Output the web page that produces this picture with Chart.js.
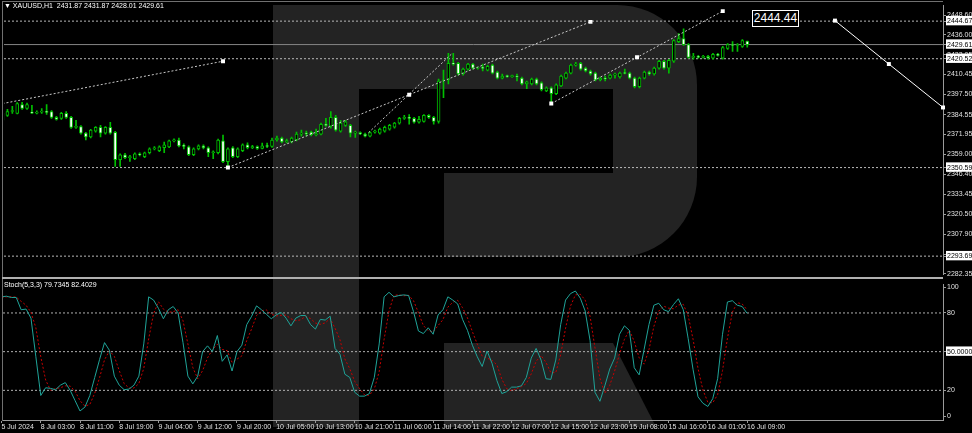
<!DOCTYPE html>
<html>
<head>
<meta charset="utf-8">
<script src="https://cdn.jsdelivr.net/npm/chart.js@4.4.1/dist/chart.umd.min.js"></script>
<style>
  html, body { margin: 0; padding: 0; background: #000; }
  #wrap { position: relative; width: 972px; height: 433px; overflow: hidden; background: #000;
          font-family: "Liberation Sans Narrow", "Liberation Sans", Arial, sans-serif; }
  .logo { position: absolute; background: #232323; }
  canvas { position: absolute; left: 0; }
  .txt { position: absolute; color: #fff; font-size: 7px; white-space: pre; line-height: 9px; }
  #frame { position: absolute; left: 2px; top: 1px; width: 941px; height: 420px; box-sizing: border-box;
           border-left: 1px solid #707070; border-top: 1px solid #707070; }
  #sep { position: absolute; left: 2px; top: 277px; width: 941px; height: 2px; background: #b0b0b0; }
  #fcLabel { position: absolute; left: 752px; top: 10px; width: 47px; height: 17px; box-sizing: border-box;
             border: 1px solid #fff; background: #000; color: #fff; font: 12px "Liberation Sans", Arial, sans-serif;
             line-height: 15px; text-align: center; }
</style>
</head>
<body>
<div id="wrap">
  <!-- watermark -->
  <div class="logo" style="left:273px;top:5px;width:86px;height:422px"></div>
  <div class="logo" style="left:359px;top:5px;width:338px;height:84px;border-top-right-radius:80px"></div>
  <div class="logo" style="left:613px;top:89px;width:84px;height:84px"></div>
  <div class="logo" style="left:444px;top:173px;width:253px;height:84px;border-bottom-right-radius:80px"></div>
  <div class="logo" style="left:444px;top:343px;width:212px;height:84px;clip-path:polygon(0 0,169px 0,212px 100%,0 100%)"></div>
  <div id="frame"></div>
  <canvas id="main" width="972" height="280" style="top:0"></canvas>
  <canvas id="stoch" width="972" height="154" style="top:279px"></canvas>
  <div id="sep"></div>
  <div class="txt" style="left:4px;top:1px">▼ XAUUSD,H1  2431.87 2431.87 2428.01 2429.61</div>
  <div class="txt" style="left:4px;top:280px">Stoch(5,3,3) 79.7345 82.4029</div>
  <div id="fcLabel">2444.44</div>
</div>
<script>
// --- données H1 XAUUSD ---
const opens = [
  2385.4,2384.1,2386.6,2385.4,2391.1,2388.6,2386.0,2385.6,2386.2,2386.6,
  2386.6,2382.8,2382.2,2385.4,2382.8,2376.4,2377.0,2372.7,2370.2,2374.0,
  2376.4,2372.7,2376.4,2373.3,2355.7,2358.8,2357.0,2356.3,2359.4,2357.6,
  2360.1,2362.6,2361.4,2363.3,2363.9,2367.7,2368.3,2364.5,2363.9,2358.8,
  2362.6,2364.5,2363.3,2360.1,2360.1,2367.7,2354.4,2363.3,2357.6,2361.4,
  2365.2,2363.3,2364.0,2362.9,2364.5,2364.1,2368.3,2369.6,2367.0,2367.0,
  2368.3,2372.1,2372.7,2373.4,2371.7,2372.1,2378.4,2377.2,2382.8,2374.0,
  2377.6,2377.8,2372.7,2373.0,2372.1,2370.8,2373.4,2372.7,2374.0,2375.3,
  2376.5,2379.1,2382.2,2382.8,2382.2,2379.7,2380.3,2384.1,2382.8,2380.3,
  2406.2,2406.9,2417.6,2417.6,2410.7,2413.8,2417.0,2414.5,2414.9,2413.2,
  2416.4,2411.9,2408.1,2409.4,2409.0,2409.4,2408.1,2404.4,2404.4,2407.5,
  2405.0,2399.9,2401.8,2398.0,2403.1,2408.1,2411.3,2416.4,2417.6,2414.5,
  2412.6,2411.3,2406.9,2408.1,2408.1,2410.0,2408.8,2411.3,2411.3,2408.1,
  2402.5,2408.1,2411.9,2410.7,2414.5,2418.9,2414.5,2418.9,2431.5,2433.4,
  2429.6,2421.4,2422.1,2421.4,2422.1,2420.8,2423.3,2420.8,2427.1,2429.6,
  2429.0,2428.4,2431.87
];
const highs = [
  2388.5,2388.0,2390.0,2392.3,2392.5,2392.0,2390.6,2387.0,2388.5,2391.1,
  2387.2,2383.5,2386.0,2386.6,2383.5,2380.9,2377.6,2373.3,2375.2,2377.0,
  2377.8,2377.0,2379.7,2373.9,2359.4,2359.8,2358.5,2360.0,2360.0,2360.6,
  2363.3,2364.0,2364.5,2367.0,2368.3,2369.0,2369.6,2365.8,2364.5,2363.3,
  2365.2,2365.2,2363.9,2361.4,2368.9,2371.5,2363.3,2364.0,2363.3,2365.8,
  2366.5,2364.8,2364.5,2366.4,2366.4,2369.6,2370.8,2370.2,2368.9,2370.2,
  2373.4,2374.6,2374.0,2374.0,2375.3,2379.1,2382.2,2386.6,2384.1,2381.0,
  2381.0,2378.4,2374.0,2373.6,2372.7,2373.6,2374.6,2375.9,2377.2,2378.4,
  2379.7,2382.8,2384.1,2384.7,2382.8,2383.5,2384.7,2384.7,2383.5,2407.5,
  2413.2,2424.0,2424.0,2418.2,2414.5,2417.6,2417.6,2415.1,2417.0,2416.4,
  2417.0,2412.6,2410.7,2410.0,2410.0,2410.7,2408.8,2406.2,2408.1,2408.1,
  2405.6,2402.5,2402.5,2404.4,2410.0,2411.9,2417.0,2418.2,2418.2,2415.1,
  2413.2,2411.9,2408.8,2409.4,2410.7,2411.3,2411.9,2413.8,2411.9,2408.8,
  2408.8,2412.6,2412.6,2415.1,2419.5,2419.5,2420.2,2432.8,2436.6,2439.7,
  2430.2,2424.0,2422.7,2422.7,2422.7,2424.0,2424.0,2428.4,2430.2,2431.5,
  2430.2,2432.8,2431.87
];
const lows = [
  2379.1,2383.5,2385.4,2385.0,2388.0,2388.0,2385.2,2385.0,2385.4,2384.7,
  2382.2,2381.0,2381.6,2382.2,2375.8,2375.8,2372.0,2368.3,2369.6,2373.3,
  2370.2,2372.0,2372.0,2351.3,2351.3,2356.3,2354.5,2355.7,2358.0,2357.0,
  2359.4,2362.0,2360.8,2360.1,2363.3,2367.0,2363.9,2362.5,2358.2,2358.2,
  2362.0,2362.6,2357.6,2356.3,2359.4,2353.8,2350.59,2357.0,2357.0,2360.8,
  2362.6,2362.8,2362.3,2362.5,2363.4,2363.6,2367.5,2366.4,2366.4,2366.4,
  2367.7,2370.8,2371.0,2371.0,2371.0,2371.5,2377.0,2375.9,2373.9,2373.4,
  2377.0,2370.2,2370.0,2371.7,2370.2,2370.2,2372.7,2372.1,2373.4,2374.6,
  2375.9,2378.4,2381.6,2378.4,2379.1,2379.1,2379.7,2382.2,2378.4,2379.1,
  2395.5,2404.4,2416.4,2410.0,2410.0,2413.2,2413.8,2413.8,2412.6,2412.6,
  2410.7,2407.5,2407.5,2408.5,2408.5,2406.2,2403.7,2401.2,2403.7,2403.7,
  2399.9,2399.3,2391.7,2397.4,2402.5,2407.5,2410.7,2415.7,2413.2,2412.0,
  2410.0,2406.2,2406.2,2406.2,2407.5,2408.1,2408.1,2410.7,2407.5,2401.8,
  2401.8,2407.5,2410.0,2410.0,2413.8,2413.8,2411.3,2418.2,2430.9,2429.0,
  2420.8,2420.2,2420.8,2420.8,2420.2,2420.2,2422.1,2420.2,2426.5,2425.2,
  2425.2,2427.7,2428.01
];
const closes = [
  2381.0,2386.6,2386.9,2391.7,2388.6,2391.1,2385.6,2386.2,2386.6,2386.0,
  2382.8,2381.6,2385.4,2382.8,2376.4,2377.0,2372.7,2370.2,2374.6,2376.4,
  2372.7,2376.4,2372.7,2355.7,2358.8,2357.0,2357.6,2359.4,2358.8,2360.1,
  2362.6,2363.3,2363.9,2365.2,2367.7,2368.3,2364.5,2364.2,2358.8,2362.6,
  2364.5,2363.3,2360.1,2360.7,2368.3,2354.4,2362.6,2357.6,2362.6,2365.2,
  2363.3,2364.0,2362.9,2364.5,2364.1,2368.3,2369.6,2367.0,2368.0,2369.6,
  2372.1,2372.7,2372.3,2371.7,2372.3,2378.4,2377.6,2382.8,2374.6,2379.1,
  2380.0,2372.7,2373.4,2372.3,2370.8,2373.0,2374.0,2375.3,2376.5,2377.8,
  2379.1,2382.2,2382.8,2382.2,2379.7,2381.6,2384.1,2382.8,2380.3,2406.2,
  2406.9,2417.6,2417.0,2410.7,2413.8,2417.0,2414.5,2414.9,2414.3,2415.7,
  2411.3,2408.1,2409.4,2409.0,2409.4,2408.8,2404.4,2405.6,2407.5,2404.4,
  2400.6,2401.8,2398.0,2403.7,2409.4,2411.3,2416.4,2417.0,2413.8,2412.6,
  2410.7,2406.9,2408.1,2407.5,2410.0,2410.4,2411.3,2411.0,2408.1,2402.5,
  2408.1,2411.9,2410.7,2414.5,2418.9,2414.5,2419.5,2432.2,2433.4,2429.6,
  2421.4,2422.1,2421.4,2422.1,2420.8,2423.3,2422.7,2427.7,2429.6,2429.0,
  2429.6,2432.2,2429.61
];

// Stochastique (5,3,3) : %K et signal
const stochK = [
  92.5,93,92,92,82.5,83,76,46,16,22,
  21.5,20.5,24,26,20,12,4,7,16,30,
  44,57,51,31,24,20.5,21,24,31,56,
  92.5,90,83.5,75.5,82.5,85,80,57,31,25,
  31,50,54.5,50,62.5,42.5,47.5,35,50,55,
  71,77.5,85.5,82.5,79,75.5,78.5,80.5,76,70,
  76,78,78,71,67.5,75,74.5,77.5,52.5,48,
  32.5,30,18.5,15.5,15.5,17.5,30,56,92.5,96,
  92.5,93.5,94,93.5,81,66,64,68.5,63.5,78.5,
  82.5,92.5,90,87,75,66.5,55,46,38.5,50.5,
  41,27.5,17.5,19,22.5,22.5,23.5,30,45,52.5,
  43.5,29,28.5,43.5,71,90,95,97,91.5,81.5,
  58.5,18.5,11.5,23.5,36.5,45,63.5,70,66.5,37.5,
  32,51.5,71,86,87.5,82.5,81,86.5,91,82.5,
  60,36,15,10,7.5,13.5,29,63.5,88.5,89.5,
  86,85,79.73
];
const stochD = [
  92,92.5,92.5,92.3,89,86,80.5,68.5,46,28,
  20,21.3,22,23.5,23.3,19.3,12,7.7,9,17.7,
  30,43.7,50.7,46.3,35.3,25.2,21.8,21.8,25.3,37,
  59.8,79.5,88.7,83,80.5,81,82.5,74,56,37.7,
  29,35.3,45.2,51.5,55.7,51.7,50.8,41.7,44.2,46.7,
  58.7,67.8,78,81.8,82.3,79,77.7,78.2,78.3,75.5,
  74,74.7,77.3,75.7,72.2,71.2,72.3,75.7,68.2,59.3,
  44.3,36.8,27,21.3,16.5,16.2,21,34.5,59.5,81.5,
  93.7,94,93.3,93.7,89.5,80.2,70.3,66.2,65.3,70.2,
  74.8,84.5,88.3,89.8,84,76.2,65.5,55.8,46.5,45,
  43.3,39.7,28.7,21.3,19.7,21.3,22.8,25.3,32.8,42.5,
  47,41.7,33.7,33.7,47.7,68.2,85.3,94,94.5,90,
  77.2,52.8,29.5,17.8,23.8,35,48.3,59.5,66.7,58,
  45.3,40.3,51.5,69.5,81.5,85.3,83.7,83.3,86.2,86.7,
  77.8,59.5,37,20.3,10.8,10.3,16.7,35.3,60.3,80.5,
  88,87,82.40
];

// axes
const priceTicks = [2448.60, 2436.00, 2423.05, 2410.45, 2397.50, 2384.55, 2371.95,
                    2359.00, 2346.40, 2333.45, 2320.50, 2307.90, 2294.95, 2282.35];
const dottedLevels = [2444.67, 2420.52, 2350.59, 2293.69];
const bidLevel = 2429.61;
const stochTicks = [0, 20, 50, 80, 100];
const stochLevels = [20, 50, 80];
const timeTickIdx = [0, 8, 16, 24, 32, 40, 48, 56, 64, 72, 80, 88, 96, 104, 112, 120, 128, 136, 144, 152];
const timeLabels = ['5 Jul 2024', '8 Jul 03:00', '8 Jul 11:00', '8 Jul 19:00', '9 Jul 04:00', '9 Jul 12:00',
  '9 Jul 20:00', '10 Jul 05:00', '10 Jul 13:00', '10 Jul 21:00', '11 Jul 06:00', '11 Jul 14:00',
  '11 Jul 22:00', '12 Jul 07:00', '12 Jul 15:00', '12 Jul 23:00', '15 Jul 08:00', '15 Jul 16:00',
  '16 Jul 01:00', '16 Jul 09:00'];

// objets tracés (index de barre, prix)
const trendTop = [[0, 2391.7], [45, 2418.9]];
const trendA = [[46, 2350.59], [83, 2397.4], [120, 2444.2]];
const trendB = [[74.7, 2373.0], [91.8, 2424.0]];
const trendC = [[112, 2391.7], [129.5, 2421.4], [147, 2451.1]];
const forecast = [[169.9, 2445.0], [180.9, 2417.1], [191.95, 2389.2]];

const X_MIN = 0.3, X_MAX = 191.95;
const GREEN = '#00c000';
const AXIS = '#9a9a9a';
const FONT = { family: '"Liberation Sans Narrow", "Liberation Sans", Arial, sans-serif', size: 7 };
const boxedPrices = dottedLevels.concat([bidLevel]);

Chart.defaults.animation = false;
Chart.defaults.responsive = false;
Chart.defaults.devicePixelRatio = 1;
Chart.defaults.plugins.legend.display = false;
Chart.defaults.plugins.tooltip.enabled = false;

function hLine(y, color, dash) {
  return { type: 'line', data: [{ x: X_MIN, y: y }, { x: X_MAX, y: y }], borderColor: color,
           borderWidth: 1, borderDash: dash, pointRadius: 0, order: 5 };
}
function objLine(pts, color, dash, radii, extra) {
  return Object.assign({ type: 'line', data: pts.map(p => ({ x: p[0], y: p[1] })), borderColor: color,
           borderWidth: 1, borderDash: dash, pointStyle: 'rect', pointRadius: radii,
           pointBackgroundColor: '#fff', pointBorderWidth: 0, order: 0 }, extra || {});
}

const idx = opens.map((_, i) => i);

new Chart(document.getElementById('main'), {
  type: 'bar',
  data: {
    datasets: [
      hLine(bidLevel, '#858585', []),
      ...dottedLevels.map(v => hLine(v, '#b8b8b8', [2, 2])),
      { type: 'bar', data: idx.map(i => ({ x: i, y: [lows[i], highs[i]] })), backgroundColor: GREEN,
        barThickness: 1, grouped: false, order: 2 },
      { type: 'bar', data: idx.map(i => ({ x: i, y: [opens[i], closes[i]] })),
        backgroundColor: idx.map(i => closes[i] >= opens[i] ? '#000' : '#fff'),
        borderColor: GREEN, borderWidth: 1, borderSkipped: false, barThickness: 3, minBarLength: 1,
        grouped: false, order: 1 },
      objLine(trendTop, '#c8c8c8', [2, 2], [0, 2.8]),
      objLine(trendA, '#c8c8c8', [2, 2], 2.8),
      objLine(trendB, '#c8c8c8', [2, 2], 0),
      objLine(trendC, '#c8c8c8', [2, 2], 2.8),
      objLine(forecast, '#ffffff', [], 2.8, { clip: false })
    ]
  },
  options: {
    layout: { padding: { left: 3, top: 3, right: 0, bottom: 3 } },
    scales: {
      x: { type: 'linear', min: X_MIN, max: X_MAX, bounds: 'data', offset: false, display: false },
      y: {
        type: 'linear', position: 'right', min: 2281.7, max: 2454.9, bounds: 'data',
        afterBuildTicks: s => { s.ticks = priceTicks.concat(boxedPrices).map(v => ({ value: v })); },
        afterFit: s => { s.width = 29; },
        grid: { drawOnChartArea: false, drawTicks: true, tickLength: 3, color: AXIS },
        border: { display: true, color: AXIS },
        ticks: {
          autoSkip: false, padding: 1, font: FONT,
          color: c => boxedPrices.includes(c.tick.value) ? '#000' : '#e0e0e0',
          showLabelBackdrop: c => boxedPrices.includes(c.tick.value),
          backdropColor: '#fff', backdropPadding: { top: 1, bottom: 0, left: 1, right: 1 },
          callback: v => v.toFixed(2)
        }
      }
    }
  }
});

new Chart(document.getElementById('stoch'), {
  type: 'line',
  data: {
    datasets: [
      ...stochLevels.map(v => hLine(v, '#b0b0b0', [2, 2])),
      { data: idx.map(i => ({ x: i, y: stochD[i] })), borderColor: '#c80000', borderWidth: 1,
        borderDash: [2, 2], pointRadius: 0, order: 2 },
      { data: idx.map(i => ({ x: i, y: stochK[i] })), borderColor: '#1fa398', borderWidth: 1,
        pointRadius: 0, order: 1 }
    ]
  },
  options: {
    layout: { padding: { left: 3, top: 1, right: 0, bottom: 0 } },
    scales: {
      x: {
        type: 'linear', position: 'bottom', min: X_MIN, max: X_MAX, bounds: 'data', offset: false,
        afterBuildTicks: s => { s.ticks = timeTickIdx.map(v => ({ value: v })); },
        afterFit: s => { s.height = 13; },
        grid: { drawOnChartArea: false, drawTicks: true, tickLength: 3, color: AXIS },
        border: { display: true, color: AXIS },
        ticks: {
          autoSkip: false, maxRotation: 0, align: 'start', padding: 0, font: FONT, color: '#e0e0e0',
          callback: v => timeLabels[timeTickIdx.indexOf(v)]
        }
      },
      y: {
        type: 'linear', position: 'right', min: -3, max: 102.3, bounds: 'data',
        afterBuildTicks: s => { s.ticks = stochTicks.map(v => ({ value: v })); },
        afterFit: s => { s.width = 29; },
        grid: { drawOnChartArea: false, drawTicks: true, tickLength: 3, color: AXIS },
        border: { display: true, color: AXIS },
        ticks: {
          autoSkip: false, padding: 1, font: FONT,
          color: c => c.tick.value === 50 ? '#000' : '#e0e0e0',
          showLabelBackdrop: c => c.tick.value === 50,
          backdropColor: '#fff', backdropPadding: { top: 1, bottom: 0, left: 1, right: 1 },
          callback: v => v === 50 ? '50.0000' : String(v)
        }
      }
    }
  }
});
</script>
</body>
</html>
